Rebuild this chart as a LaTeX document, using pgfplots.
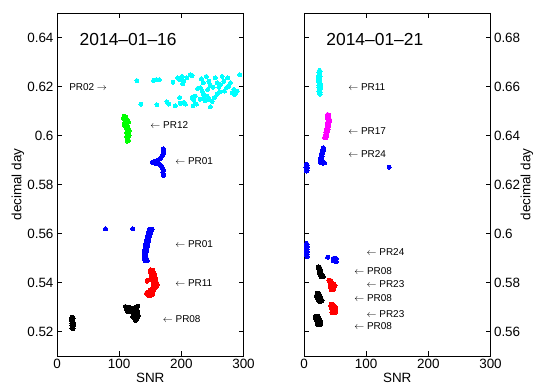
\documentclass[border=0pt]{standalone}
\usepackage{pgfplots}
\pgfplotsset{compat=1.18}
\usepackage{fontspec}
\setmainfont{Liberation Sans}
\definecolor{mcyan}{rgb}{0,1,1}
\definecolor{mgreen}{rgb}{0,1,0}
\definecolor{mblue}{rgb}{0,0,1}
\definecolor{mred}{rgb}{1,0,0}
\definecolor{mmag}{rgb}{1,0,1}
\definecolor{mblack}{rgb}{0,0,0}
\pgfplotsset{
  panel/.style={
    scale only axis, width=186.5bp, height=343bp,
    xmin=0, xmax=300, xtick={0,100,200,300},
    tick align=inside, major tick length=5bp,
    axis line style={line width=0.8pt},
    every tick/.style={black, line width=0.6pt},
    tick label style={font=\fontsize{13.5}{16}\selectfont},
    label style={font=\fontsize{13.5}{16}\selectfont},
    /pgf/number format/assume math mode=true,
    /pgf/number format/fixed,
    xlabel={SNR}, ylabel={decimal day},
    xlabel style={at={(axis description cs:0.5,-0.064)}, anchor=center},
    clip=false,
  },
  dots/.style={only marks, color=#1, mark=*, mark size=2pt, mark options={solid, fill=#1, draw=#1, line width=0pt}},
}
\tikzset{ann/.style={font=\fontsize{10}{12}\selectfont, anchor=west, inner sep=0pt}}
\begin{document}
\begin{tikzpicture}
% ---------------- left panel ----------------
\begin{axis}[panel, at={(0,0)}, anchor=south west,
  ymin=0.51, ymax=0.65, ytick={0.52,0.54,0.56,0.58,0.6,0.62,0.64},
  ylabel style={at={(axis description cs:-0.21,0.5)}, anchor=center}]
% PR02 cyan cloud
\addplot[dots=mcyan] coordinates {
(128.5,0.6224)(155.4,0.6225)(159.7,0.6228)(164.5,0.6228)(186.6,0.6217)
(194.1,0.6235)(197.3,0.6228)(201.1,0.6241)(203.8,0.6221)(202.2,0.6211)
(209.1,0.6235)(214.5,0.6248)(217.2,0.6245)(232.3,0.6232)(240.3,0.6241)
(235,0.6215)(244.1,0.6221)(246.8,0.6205)(254.8,0.6235)(257.5,0.6215)
(260.2,0.6197)(251.1,0.6197)(242.5,0.6188)(230.6,0.6195)(226.3,0.6192)
(265.6,0.6241)(274.7,0.6235)(279,0.6215)(276.3,0.6201)(284.4,0.6188)
(287.1,0.6171)(289.8,0.6181)(294.1,0.6248)
(134.9,0.6128)(160.8,0.6125)(176.9,0.6137)(179.6,0.6128)(190.3,0.6121)
(198.4,0.6131)(203.8,0.6135)(206.5,0.6128)(197.3,0.6155)(217.2,0.6155)
(219.9,0.6144)(218.8,0.6121)(224.2,0.6128)(230.6,0.6148)(236,0.6155)
(235,0.6171)(241.4,0.6161)(238.7,0.6141)(244.1,0.6148)(246.8,0.6117)
(249.5,0.6139)(253.2,0.6155)(257.5,0.6168)(261.8,0.6179)(269.4,0.6181)
(272.6,0.6195)(281.7,0.6175)(285.5,0.6168)(222.6,0.6161)(233.3,0.6181)
(262.9,0.6208)(268.3,0.6221)
};
% PR12 green
\addplot[dots=mgreen] coordinates {
(108,0.6078)(111,0.6075)(107,0.6072)(110,0.6068)(113,0.6065)(109,0.6062)
(112,0.6058)(115,0.6055)(110,0.6052)(108,0.6048)(111,0.6045)(109,0.6041)
(112,0.6038)(114,0.6034)(112,0.6030)(115,0.6027)(113,0.6023)(116,0.6019)
(114,0.6015)(112,0.6011)(115,0.6007)(113,0.6003)(116,0.5999)(112,0.5995)
(114,0.5990)(113,0.5985)(115,0.5980)(113,0.5977)
};
% PR01 blue upper
\addplot[dots=mblue] coordinates {
(171,0.5945)(172,0.5940)(171,0.5935)(172,0.5930)(171,0.5925)(170,0.5920)
(169,0.5915)(167,0.5910)(165,0.5905)(162,0.5900)(158,0.5895)(155,0.5892)
(153,0.5890)(156,0.5888)(159,0.5886)(163,0.5884)(166,0.5880)(168,0.5875)
(169,0.5870)(170,0.5865)(171,0.5860)(171,0.5855)(170,0.5850)(171,0.5845)
(172,0.5840)(171,0.5837)
};
% PR01 blue lower
\addplot[dots=mblue] coordinates {
(78,0.5619)(122,0.5619)
(149,0.5618)(153,0.5618)(148,0.5613)(152,0.5613)(148,0.5608)(151,0.5608)
(147,0.5603)(150,0.5603)(147,0.5598)(150,0.5598)(146,0.5593)(149,0.5593)
(146,0.5588)(149,0.5588)(145,0.5583)(148,0.5583)(145,0.5578)(148,0.5578)
(144,0.5573)(147,0.5573)(144,0.5568)(147,0.5568)(144,0.5563)(146,0.5563)
(143,0.5558)(146,0.5558)(143,0.5553)(146,0.5553)(143,0.5548)(145,0.5548)
(142,0.5543)(145,0.5543)(142,0.5538)(144,0.5538)(141,0.5533)(144,0.5533)
(141,0.5528)(144,0.5528)(141,0.5523)(143,0.5523)(141,0.5518)(143,0.5518)
(140,0.5513)(143,0.5513)(140,0.5508)(143,0.5508)(140,0.5503)(143,0.5503)
(141,0.5498)(144,0.5498)(141,0.5493)(144,0.5493)(142,0.5488)(145,0.5488)
};
% PR11 red
\addplot[dots=mred] coordinates {
(151,0.5452)(154,0.5450)(150,0.5445)(153,0.5443)(156,0.5440)(151,0.5437)
(154,0.5433)(157,0.5430)(152,0.5427)(155,0.5423)(158,0.5420)(153,0.5417)
(156,0.5413)(159,0.5410)(154,0.5407)(157,0.5403)(160,0.5400)(155,0.5397)
(158,0.5393)(161,0.5390)(157,0.5387)(160,0.5383)(155,0.5380)(158,0.5377)
(153,0.5373)(156,0.5370)(150,0.5368)(153,0.5365)(147,0.5362)(150,0.5358)
(144,0.5356)(148,0.5353)(152,0.5350)(146,0.5348)(150,0.5346)(154,0.5352)
(145,0.5405)(147,0.5410)
};
% PR08 black
\addplot[dots=mblack] coordinates {
(110,0.5302)(113,0.5298)(116,0.5300)(111,0.5293)(115,0.5288)(118,0.5290)
(119,0.5283)(114,0.5280)(122,0.5278)(124,0.5295)(127,0.5300)(125,0.5285)
(128,0.5290)(130,0.5303)(126,0.5275)(129,0.5270)(123,0.5268)(127,0.5262)
(130,0.5258)(124,0.5255)(128,0.5250)(131,0.5265)(130,0.5280)(126,0.5245)
(122,0.5260)
(24,0.5258)(26,0.5255)(23,0.5250)(25,0.5246)(24,0.5242)(26,0.5238)
(24,0.5234)(25,0.5230)(24,0.5226)(26,0.5222)(25,0.5218)(24,0.5214)
(26,0.5212)(23,0.5245)(27,0.5232)
};
\node[font=\fontsize{17.5}{20}\selectfont, anchor=center] at (axis cs:114.5,0.6392) {2014–01–16};
\node[ann] at (axis cs:19.4,0.6199) {PR02 $\rightarrow$};
\node[ann] at (axis cs:150,0.6041) {$\leftarrow$ PR12};
\node[ann] at (axis cs:190,0.5895) {$\leftarrow$ PR01};
\node[ann] at (axis cs:190,0.5555) {$\leftarrow$ PR01};
\node[ann] at (axis cs:190,0.5399) {$\leftarrow$ PR11};
\node[ann] at (axis cs:170,0.5249) {$\leftarrow$ PR08};
\end{axis}
% ---------------- right panel ----------------
\begin{axis}[panel, at={(247bp,0)}, anchor=south west,
  ymin=0.55, ymax=0.69, ytick={0.56,0.58,0.6,0.62,0.64,0.66,0.68},
  yticklabel pos=right,
  ylabel style={at={(axis description cs:1.195,0.5)}, anchor=center}]
% PR11 cyan
\addplot[dots=mcyan] coordinates {
(25,0.6666)(26,0.6661)(24,0.6656)(25,0.6651)(24,0.6646)(26,0.6641)
(24,0.6636)(25,0.6631)(23,0.6626)(25,0.6621)(24,0.6616)(26,0.6611)
(24,0.6606)(25,0.6601)(24,0.6596)(26,0.6591)(25,0.6586)(24,0.6581)
(26,0.6576)(25,0.6571)(26,0.6568)(23,0.6640)(27,0.6600)
};
% PR17 magenta
\addplot[dots=mmag] coordinates {
(38,0.6486)(40,0.6482)(37,0.6478)(40,0.6474)(38,0.6470)(41,0.6466)
(39,0.6462)(41,0.6458)(38,0.6454)(40,0.6450)(38,0.6446)(40,0.6442)
(37,0.6438)(39,0.6434)(37,0.6430)(39,0.6426)(36,0.6422)(38,0.6418)
(35,0.6414)(37,0.6410)(35,0.6406)(37,0.6402)(34,0.6398)(36,0.6394)
(35,0.6390)(33,0.6392)
};
% PR24 blue
\addplot[dots=mblue] coordinates {
(31,0.6350)(32,0.6346)(30,0.6342)(31,0.6338)(29,0.6334)(30,0.6330)
(28,0.6326)(29,0.6322)(28,0.6318)(29,0.6314)(27,0.6310)(28,0.6306)
(26,0.6302)(28,0.6298)(26,0.6294)(29,0.6292)(31,0.6290)(27,0.6288)
(30,0.6287)(33,0.6288)
(4,0.6283)(5,0.6278)(4,0.6273)(5,0.6268)(4,0.6263)(5,0.6258)(4,0.6255)(3,0.6270)
(137,0.6271)
(4,0.5960)(5,0.5955)(4,0.5950)(5,0.5945)(4,0.5940)(5,0.5935)
(4,0.5930)(5,0.5925)(4,0.5920)(5,0.5915)(4,0.5910)(5,0.5905)
(38,0.5903)
(47,0.5898)(50,0.5900)(52,0.5896)(48,0.5892)(51,0.5890)(49,0.5887)(52,0.5885)(47,0.5888)
};
% PR08 black
\addplot[dots=mblack] coordinates {
(23,0.5864)(25,0.5862)(24,0.5858)(26,0.5855)(24,0.5852)(26,0.5848)
(25,0.5845)(27,0.5842)(25,0.5838)(28,0.5836)(26,0.5833)(29,0.5830)
(27,0.5827)(30,0.5826)(28,0.5823)(31,0.5824)
(21,0.5756)(24,0.5755)(22,0.5751)(25,0.5750)(20,0.5746)(23,0.5745)
(26,0.5744)(21,0.5740)(24,0.5739)(27,0.5738)(22,0.5734)(25,0.5733)
(28,0.5732)(23,0.5728)(26,0.5727)(29,0.5726)(24,0.5723)(27,0.5723)
(19,0.5663)(22,0.5662)(18,0.5658)(21,0.5657)(24,0.5656)(19,0.5652)
(22,0.5651)(25,0.5650)(20,0.5646)(23,0.5645)(26,0.5644)(21,0.5640)
(24,0.5639)(27,0.5638)(22,0.5634)(25,0.5633)(21,0.5630)(24,0.5628)
(27,0.5629)
};
% PR23 red
\addplot[dots=mred] coordinates {
(40,0.5810)(43,0.5808)(41,0.5804)(44,0.5802)(42,0.5798)(45,0.5796)
(48,0.5794)(43,0.5792)(46,0.5790)(49,0.5789)(50,0.5787)(44,0.5786)
(47,0.5784)(42,0.5782)(45,0.5780)(48,0.5778)(43,0.5776)(46,0.5774)
(44,0.5771)(47,0.5770)
(44,0.5711)(47,0.5710)(43,0.5706)(46,0.5705)(49,0.5704)(45,0.5700)
(48,0.5699)(51,0.5698)(44,0.5694)(47,0.5693)(50,0.5692)(45,0.5688)
(48,0.5687)(51,0.5686)(46,0.5682)(49,0.5681)(45,0.5677)(48,0.5676)
(51,0.5679)
};
\node[font=\fontsize{17.5}{20}\selectfont, anchor=center] at (axis cs:114,0.6792) {2014–01–21};
\node[ann] at (axis cs:71,0.6597) {$\leftarrow$ PR11};
\node[ann] at (axis cs:71,0.6417) {$\leftarrow$ PR17};
\node[ann] at (axis cs:71,0.6324) {$\leftarrow$ PR24};
\node[ann] at (axis cs:100.5,0.5925) {$\leftarrow$ PR24};
\node[ann] at (axis cs:80.7,0.5845) {$\leftarrow$ PR08};
\node[ann] at (axis cs:100.5,0.5792) {$\leftarrow$ PR23};
\node[ann] at (axis cs:80.7,0.5736) {$\leftarrow$ PR08};
\node[ann] at (axis cs:100.5,0.5673) {$\leftarrow$ PR23};
\node[ann] at (axis cs:80.7,0.5623) {$\leftarrow$ PR08};
\end{axis}
\pgfresetboundingbox
\path (-57bp,-31bp) rectangle (480bp,356bp);
\end{tikzpicture}
\end{document}
